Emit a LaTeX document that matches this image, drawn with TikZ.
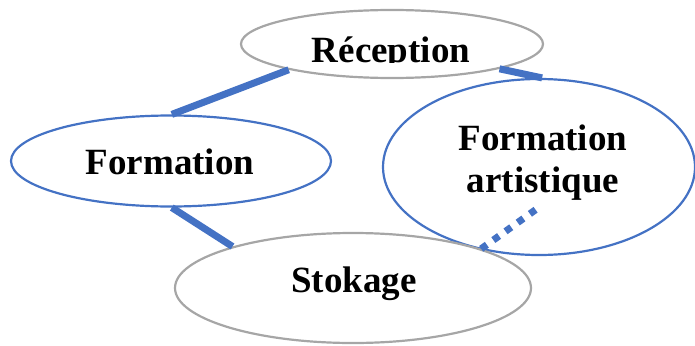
\documentclass[tikz,border=0pt]{standalone}
\usepackage{fontspec}
\setmainfont{Liberation Serif}
\usetikzlibrary{shapes.geometric}
\definecolor{linkblue}{HTML}{4472C4}
\definecolor{rimgray}{HTML}{A6A6A6}
\begin{document}
\begin{tikzpicture}[x=1pt,y=-1pt,
	grayell/.style={draw=rimgray, line width=2.2pt, ellipse, inner sep=0pt},
	blueell/.style={draw=linkblue, line width=2.2pt, ellipse, inner sep=0pt},
	lbl/.style={font=\fontsize{37}{42}\selectfont\bfseries, inner sep=0pt},
	link/.style={draw=linkblue, line width=7pt},
	dotlink/.style={link, dash pattern=on 7pt off 8pt}]
	
	\useasboundingbox (0,0) rectangle (695,345);
	
	\node[grayell, minimum width=302, minimum height=68] (reception) at (392,44) {};
	\node[blueell, minimum width=320, minimum height=91] (formation) at (171,161) {};
	\node[blueell, minimum width=312, minimum height=176] (artistique) at (539,167) {};
	\node[grayell, minimum width=356, minimum height=110] (stokage) at (353,288) {};
	
	\begin{scope}
		\clip (241,0) rectangle (543,62);
		\node[lbl, anchor=base] (receptiontxt) at (391,63) {Réception};
	\end{scope}
	\node[lbl, anchor=base] (formationtxt) at (170,174) {Formation};
	\node[lbl, align=center] (artistiquetxt) at (543,163) {Formation\\artistique};
	\node[lbl, anchor=base] (stokagetxt) at (354,292) {Stokage};
	
	\coordinate (dotend) at (538,208);
	
	\draw[link] (formation.89) -- (reception.194);
	\draw[link] (reception.347.5) -- (artistique.88);
	\draw[link] (formation.271) -- (stokage.161);
	\draw[dotlink] (stokage.17) -- (dotend);

\end{tikzpicture}
\end{document}
